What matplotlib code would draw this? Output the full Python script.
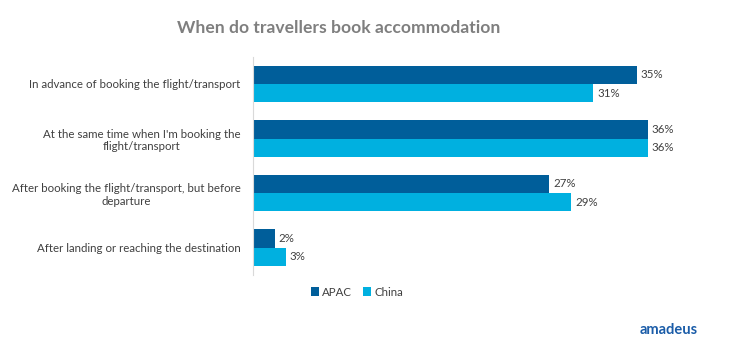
import matplotlib
matplotlib.use("Agg")
import matplotlib.pyplot as plt
import numpy as np

categories = [
    "In advance of booking the flight/transport",
    "At the same time when I'm booking the\nflight/transport",
    "After booking the flight/transport, but before\ndeparture",
    "After landing or reaching the destination",
]
apac = [35, 36, 27, 2]
china = [31, 36, 29, 3]
series_names = ["APAC", "China"]
colors = ["#005E9A", "#00B0E0"]

plt.rcParams['font.family'] = ['Lato', 'DejaVu Sans']

fig = plt.figure(figsize=(7.33, 3.54), dpi=100)
ax = fig.add_axes([253/733, 1-275/354, 439/733, (275-56.7)/354])

n = len(categories)
y = np.arange(n)
h = 0.335
ax.barh(y - h/2, apac, height=h, color=colors[0], label=series_names[0])
ax.barh(y + h/2, china, height=h, color=colors[1], label=series_names[1])
for i in range(n):
    ax.text(apac[i] + 0.35, y[i] - h/2, f"{apac[i]}%", va='center', ha='left', fontsize=8.3, color='#404040')
    ax.text(china[i] + 0.35, y[i] + h/2, f"{china[i]}%", va='center', ha='left', fontsize=8.3, color='#404040')

ax.set_ylim(n - 0.5, -0.5)
ax.set_xlim(0, 40)
ax.set_yticks(y)
ax.set_yticklabels(categories, fontsize=8.3, color='#404040')
ax.tick_params(axis='y', length=0, pad=9)
ax.set_xticks([])
for s in ['top', 'right', 'bottom']:
    ax.spines[s].set_visible(False)
ax.spines['left'].set_color('#D9D9D9')

fig.canvas.draw()
for lbl in ax.get_yticklabels():
    lbl.set_horizontalalignment('right')
    lbl.set_multialignment('center')

fig.text(339/733, 1-28/354, "When do travellers book accommodation", ha='center', va='center',
         fontsize=12.6, fontweight='bold', color='#7F7F7F')

leg = fig.legend(loc='center', bbox_to_anchor=(357/733, 1-292/354), ncol=2, frameon=False,
                 fontsize=8.3, handlelength=0.7, handleheight=0.7, handletextpad=0.3, columnspacing=0.9)
for t in leg.get_texts():
    t.set_color('#404040')

fig.text(669/733, 1-330/354, "amadeus", ha='center', va='center', fontsize=10.5, fontweight='bold',
         color='#1A5CA8')

fig.savefig("out.png", dpi=100)
